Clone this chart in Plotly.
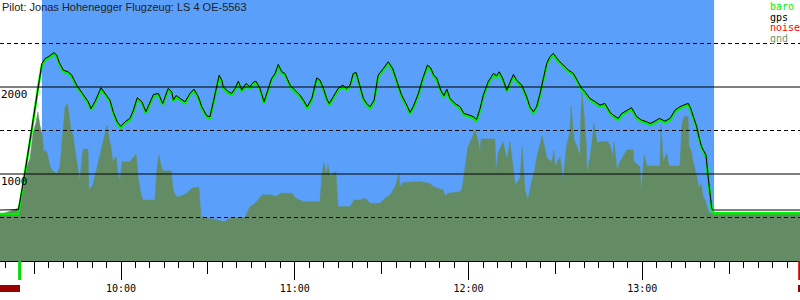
import plotly.graph_objects as go

# ---- data: flight trace (time in minutes after midnight, altitudes in m) ----
flight_t = [
    558.0, 564.4, 564.6, 566.9, 569.2, 571.4, 572.7, 573.8, 574.9, 576.9,
    577.8, 578.7, 580.1, 581.8, 583.0, 584.7, 587.0, 588.7, 589.6, 591.0,
    593.1, 594.5, 596.2, 597.3, 598.7, 599.9, 601.4, 603.1, 604.3, 605.6,
    607.2, 608.6, 610.0, 611.2, 612.9, 614.4, 616.3, 617.5, 618.1, 619.0,
    620.4, 622.1, 623.8, 625.2, 626.7, 627.9, 629.6, 630.7, 631.9, 633.1,
    633.9, 634.8, 635.3, 637.1, 638.2, 639.4, 640.5, 641.7, 643.2, 644.5,
    645.6, 646.6, 648.0, 649.4, 650.9, 652.0, 653.2, 654.3, 655.5, 656.6,
    658.4, 660.1, 661.8, 663.0, 664.3, 665.9, 667.6, 668.7, 669.9, 671.0,
    671.9, 673.3, 675.0, 676.6, 677.9, 679.1, 680.2, 681.2, 682.3, 683.7,
    684.8, 686.0, 687.4, 688.8, 690.6, 692.3, 693.8, 695.2, 696.9, 698.7,
    699.8, 700.9, 702.7, 704.2, 705.8, 706.9, 708.1, 709.0, 710.4, 711.5,
    712.5, 713.6, 715.3, 717.1, 718.4, 720.3, 721.7, 722.8, 724.0, 725.1,
    726.8, 728.6, 729.7, 730.6, 731.8, 733.2, 734.3, 735.5, 736.6, 738.4,
    740.1, 741.2, 742.4, 743.5, 744.7, 745.8, 747.0, 748.1, 749.3, 751.0,
    752.7, 754.5, 756.2, 757.4, 759.1, 760.2, 761.9, 763.7, 765.4, 767.1,
    768.9, 770.0, 771.7, 772.9, 774.6, 776.3, 778.1, 779.8, 781.5, 782.7,
    784.4, 785.9, 787.8, 789.6, 791.3, 793.0, 794.8, 795.9, 796.7, 797.6,
    798.8, 799.7, 800.5, 801.1, 802.0, 802.8, 803.4, 804.0, 804.5, 834.5,
]
baro_alt = [
    540, 540, 552, 1011, 1506, 2000, 2253, 2310, 2330, 2379,
    2348, 2264, 2176, 2157, 2118, 2003, 1888, 1813, 1736, 1813,
    1974, 1908, 1831, 1698, 1583, 1532, 1583, 1621, 1716, 1859,
    1813, 1698, 1813, 1897, 1908, 1793, 1966, 1928, 1831, 1885,
    1851, 1813, 1908, 1957, 1870, 1755, 1652, 1640, 1813, 2003,
    2118, 2061, 1985, 1928, 1908, 1966, 2049, 1946, 2023, 1985,
    2034, 2049, 1966, 1813, 1966, 2080, 2138, 2241, 2157, 2138,
    2003, 1946, 1888, 1831, 1755, 1851, 2088, 2061, 1966, 1851,
    1793, 1870, 1966, 2003, 1966, 2003, 2138, 2149, 2003, 1851,
    1793, 1755, 1831, 2118, 2195, 2272, 2195, 2043, 1888, 1774,
    1690, 1755, 1908, 2080, 2233, 2203, 2111, 2088, 1946, 1882,
    1957, 1851, 1793, 1755, 1678, 1659, 1640, 1609, 1736, 1888,
    2043, 2138, 2111, 2157, 2080, 1946, 2043, 2126, 2061, 2003,
    1870, 1755, 1698, 1755, 1908, 2080, 2253, 2330, 2368, 2291,
    2233, 2176, 2138, 2061, 1966, 1928, 1851, 1813, 1774, 1793,
    1690, 1659, 1621, 1678, 1716, 1744, 1640, 1601, 1583, 1563,
    1590, 1621, 1590, 1621, 1716, 1755, 1782, 1793, 1736, 1640,
    1525, 1391, 1295, 1256, 1199, 931, 739, 586, 548, 548,
]
gps_alt = [
    586, 586, 590, 1030, 1522, 2018, 2270, 2328, 2347, 2396,
    2366, 2282, 2193, 2175, 2135, 2021, 1905, 1830, 1752, 1831,
    1992, 1926, 1848, 1716, 1600, 1549, 1600, 1640, 1733, 1876,
    1831, 1716, 1830, 1914, 1926, 1811, 1983, 1946, 1850, 1902,
    1869, 1830, 1925, 1975, 1888, 1772, 1670, 1657, 1831, 2020,
    2136, 2079, 2003, 1946, 1926, 1984, 2067, 1964, 2041, 2003,
    2052, 2067, 1984, 1831, 1984, 2097, 2155, 2259, 2175, 2155,
    2021, 1964, 1906, 1849, 1773, 1869, 2105, 2079, 1984, 1869,
    1811, 1888, 1984, 2021, 1984, 2021, 2155, 2167, 2021, 1869,
    1811, 1773, 1849, 2136, 2213, 2290, 2213, 2061, 1906, 1792,
    1708, 1773, 1926, 2098, 2251, 2221, 2129, 2106, 1964, 1900,
    1975, 1869, 1811, 1773, 1696, 1677, 1658, 1627, 1754, 1906,
    2061, 2156, 2129, 2175, 2098, 1964, 2061, 2144, 2079, 2021,
    1888, 1773, 1716, 1773, 1926, 2098, 2271, 2348, 2386, 2309,
    2251, 2194, 2156, 2079, 1984, 1946, 1869, 1831, 1792, 1811,
    1708, 1677, 1639, 1696, 1734, 1762, 1658, 1619, 1601, 1581,
    1608, 1639, 1608, 1639, 1734, 1773, 1800, 1811, 1754, 1658,
    1543, 1409, 1313, 1274, 1217, 950, 760, 600, 586, 586,
]

# ---- data: ground elevation under track ----
gnd_t = [
    558.0, 564.4, 566.9, 567.5, 568.6, 569.6, 570.7, 571.3, 572.0, 572.7,
    573.4, 573.8, 574.5, 575.5, 576.2, 577.9, 578.9, 580.0, 580.7, 581.4,
    582.0, 582.7, 583.4, 584.1, 584.8, 585.5, 585.8, 586.9, 588.6, 588.9,
    590.3, 593.4, 594.1, 594.8, 595.2, 595.9, 596.5, 597.2, 598.3, 598.9,
    599.7, 600.4, 603.1, 605.2, 605.9, 606.9, 607.6, 611.7, 612.4, 613.1,
    613.8, 614.5, 617.3, 618.0, 619.0, 620.4, 622.4, 624.5, 626.9, 627.6,
    630.7, 634.2, 635.9, 637.6, 642.8, 644.5, 646.3, 648.7, 652.1, 653.5,
    655.2, 659.0, 660.4, 662.9, 668.7, 669.4, 670.1, 670.8, 671.5, 672.2,
    673.2, 674.2, 674.9, 679.1, 680.5, 682.5, 684.3, 686.0, 689.4, 691.2,
    692.9, 694.6, 696.0, 696.3, 697.4, 703.2, 706.7, 707.7, 711.2, 711.9,
    712.9, 717.1, 717.8, 718.8, 719.8, 721.2, 722.2, 723.3, 724.0, 724.3,
    729.1, 729.5, 730.2, 731.9, 733.3, 734.3, 736.1, 737.8, 738.5, 739.5,
    740.5, 741.9, 742.9, 743.6, 745.4, 747.1, 748.8, 749.5, 749.9, 751.6,
    752.6, 754.0, 755.0, 755.4, 756.4, 757.5, 758.5, 758.8, 759.2, 759.9,
    760.6, 760.9, 761.9, 762.6, 763.3, 764.4, 765.4, 768.2, 768.9, 769.9,
    770.2, 771.3, 772.3, 774.7, 776.8, 777.1, 779.2, 779.6, 780.6, 781.6,
    786.1, 786.5, 787.2, 788.5, 789.2, 793.0, 793.7, 794.4, 795.8, 796.1,
    796.8, 797.5, 798.2, 798.9, 799.6, 800.3, 801.0, 801.7, 802.3, 803.0,
    803.7, 834.5,
]
gnd_alt = [
    529, 605, 931, 1084, 1180, 1467, 1602, 1716, 1560, 1467,
    1238, 1270, 1238, 1084, 1040, 1000, 1084, 1467, 1774, 1812,
    1700, 1506, 1450, 1276, 1100, 970, 931, 1284, 1284, 816,
    874, 1314, 1391, 1500, 1563, 1400, 1314, 1142, 1200, 1000,
    931, 1142, 1142, 1226, 970, 760, 701, 701, 1046, 1218,
    1100, 1035, 1035, 816, 740, 740, 770, 835, 850, 510,
    490, 471, 452, 490, 500, 625, 663, 759, 759, 740,
    778, 778, 720, 682, 682, 1000, 1127, 1000, 1100, 970,
    1000, 1030, 625, 625, 701, 701, 720, 663, 663, 720,
    760, 850, 1000, 855, 900, 913, 890, 855, 816, 748,
    778, 797, 835, 1084, 1314, 1410, 1506, 1391, 1238, 1402,
    1402, 1027, 1238, 1371, 1161, 1371, 874, 950, 1314, 816,
    701, 931, 1046, 1199, 1437, 1180, 1142, 1276, 1084, 1199,
    931, 1353, 1467, 1782, 1391, 1314, 1199, 1697, 1935, 1678,
    1353, 1008, 1180, 1353, 1582, 1353, 1372, 1372, 1314, 1199,
    1372, 1046, 1142, 1276, 1276, 1142, 1084, 778, 1218, 1092,
    1092, 1563, 1142, 1238, 1092, 1092, 1563, 1659, 1659, 1314,
    1276, 1150, 1065, 950, 835, 890, 740, 700, 625, 560,
    545, 545,
]

assert len(flight_t) == len(baro_alt) == len(gps_alt)
assert len(gnd_t) == len(gnd_alt)

hour_ticks = [600, 660, 720, 780]
hour_labels = ["10:00", "11:00", "12:00", "13:00"]
half_hour_ticks = [570, 630, 690, 750, 810]
solid_levels = [1000, 2000]
dashed_levels = [500, 1500, 2500]
legend_names = ["baro", "gps", "noise", "gnd"]
legend_colors = ["#00ee00", "#000000", "#ff0000", "#6b9a6b"]
title_text = "Pilot: Jonas Hohenegger Flugzeug: LS 4 OE-5563"
in_air = (572.7, 804.8)      # task / flight window (blue)
takeoff_t = 565.0
x_range = [558.22, 834.46]

MONO = "DejaVu Sans Mono"
H = 261.0  # plot height in px

fig = go.Figure()
fig.add_trace(go.Scatter(x=gnd_t, y=gnd_alt, mode="lines", fill="tozeroy",
                         fillcolor="#638c64", line=dict(color="#638c64", width=0.5),
                         hoverinfo="skip", showlegend=False))
fig.add_trace(go.Scatter(x=flight_t, y=baro_alt, mode="lines",
                         line=dict(color="#00ee00", width=2.4), showlegend=False))
fig.add_trace(go.Scatter(x=flight_t, y=gps_alt, mode="lines",
                         line=dict(color="#000000", width=1), showlegend=False))
fig.add_trace(go.Scatter(x=[], y=[], xaxis="x2", showlegend=False))

shapes = [dict(type="rect", xref="x", yref="paper", x0=in_air[0], x1=in_air[1],
               y0=0, y1=1, fillcolor="#5a9ffa", line=dict(width=0), layer="below")]
for lv in solid_levels:
    shapes.append(dict(type="line", xref="paper", yref="y", x0=0, x1=1, y0=lv, y1=lv,
                       line=dict(color="black", width=1), layer="above"))
for lv in dashed_levels:
    shapes.append(dict(type="line", xref="paper", yref="y", x0=0, x1=1, y0=lv, y1=lv,
                       line=dict(color="black", width=1, dash="4px,3px"), layer="above"))
# time markers below axis
shapes.append(dict(type="line", xref="x", yref="paper", x0=takeoff_t, x1=takeoff_t,
                   y0=0, y1=-19 / H, line=dict(color="#00dd00", width=3)))
shapes.append(dict(type="line", xref="paper", yref="paper", x0=0.999, x1=0.999,
                   y0=0, y1=-19 / H, line=dict(color="#dd0000", width=2)))
shapes.append(dict(type="rect", xref="paper", yref="paper", x0=0, x1=20 / 800,
                   y0=-24 / H, y1=-31 / H, fillcolor="#990000", line=dict(width=0)))
shapes.append(dict(type="rect", xref="paper", yref="paper", x0=798 / 800, x1=1,
                   y0=-24 / H, y1=-31 / H, fillcolor="#990000", line=dict(width=0)))

annotations = [dict(xref="paper", yref="paper", x=0, y=1, xanchor="left", yanchor="top",
                    text=title_text, showarrow=False, yshift=1,
                    font=dict(family="Liberation Sans", size=11, color="#222"))]
for lv in solid_levels:
    annotations.append(dict(xref="paper", yref="y", x=0, y=lv, xanchor="left",
                            yanchor="top", text=str(lv), showarrow=False, yshift=1,
                            xshift=-1, font=dict(family=MONO, size=11, color="black")))
for i, (nm, col) in enumerate(zip(legend_names, legend_colors)):
    yc = 6.5 + 10.5 * i
    annotations.append(dict(xref="paper", yref="paper", x=768 / 800, y=1 - yc / H,
                            xanchor="left", yanchor="middle", text=nm, showarrow=False,
                            font=dict(family=MONO, size=10, color=col)))

fig.update_layout(
    width=800, height=300,
    margin=dict(l=0, r=0, t=0, b=39, pad=0),
    paper_bgcolor="white", plot_bgcolor="white",
    showlegend=False,
    shapes=shapes, annotations=annotations,
    xaxis=dict(range=x_range, tickmode="array", tickvals=hour_ticks, ticktext=hour_labels,
               ticks="outside", ticklen=18, tickwidth=1, tickcolor="black",
               showline=True, linecolor="black", linewidth=1, showgrid=False,
               zeroline=False, tickfont=dict(family=MONO, size=10, color="black"),
               minor=dict(tickmode="linear", tick0=600, dtick=5, ticks="outside",
                          ticklen=6, tickwidth=1, tickcolor="black", showgrid=False)),
    xaxis2=dict(range=x_range, overlaying="x", anchor="y", side="bottom",
                tickmode="array", tickvals=half_hour_ticks, ticks="outside", ticklen=12,
                tickwidth=1, tickcolor="black", showticklabels=False, showline=False,
                showgrid=False, zeroline=False),
    yaxis=dict(range=[0, 3000], showticklabels=False, showgrid=False, zeroline=False,
               ticks=""),
)

fig.write_html("out.html")
